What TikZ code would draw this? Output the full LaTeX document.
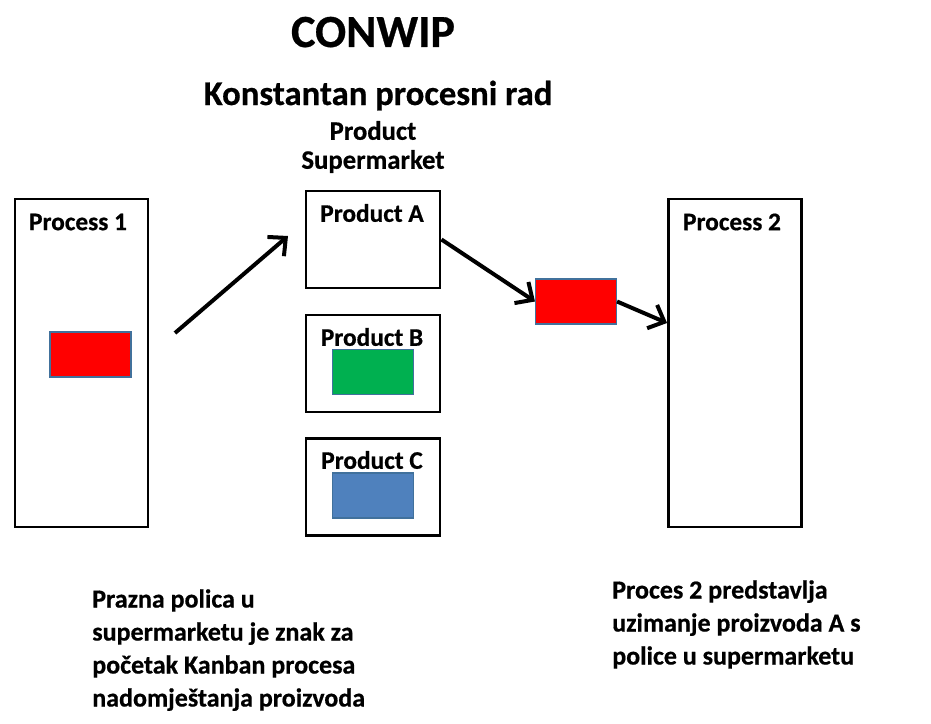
\documentclass[tikz,border=0pt]{standalone}
\usepackage{fontspec}
\setmainfont{Carlito}[BoldFeatures={FakeBold=0.6}]
\usetikzlibrary{arrows.meta}
\definecolor{itemred}{RGB}{255,0,0}
\definecolor{itemgreen}{RGB}{0,176,80}
\definecolor{itemblue}{RGB}{79,129,189}
\definecolor{itemline}{RGB}{65,113,156}
\tikzstyle{proc} = [draw=black, line width=2.2pt, minimum width=99.75pt, minimum height=246pt]
\tikzstyle{shelf} = [draw=black, line width=2.2pt, minimum width=100.5pt, minimum height=72.75pt]
\tikzstyle{item} = [draw=itemline, line width=0.8pt, minimum width=60.75pt, minimum height=33.75pt]
\tikzstyle{lbl} = [font={\bfseries\fontsize{19}{22}\selectfont}, inner sep=0pt]
\tikzstyle{note} = [font={\bfseries\fontsize{19.5}{24.75}\selectfont}, align=left, inner sep=0pt, anchor=north west]
\tikzstyle{flow} = [line width=3pt, -{Straight Barb[length=10pt,width=19pt]}]

\begin{document}
\begin{tikzpicture}[x=0.75pt,y=-0.75pt]
    \useasboundingbox (0,0) rectangle (931,724);
    \node[font={\bfseries\fontsize{34.5}{40}\selectfont}, anchor=base](t) at (373,47){CONWIP};
    \node[font={\bfseries\fontsize{26}{30}\selectfont}, anchor=base](st) at (378,105){Konstantan procesni rad};
    \node[lbl, align=center, font={\bfseries\fontsize{20}{21.75}\selectfont}](sm) at (373,147){Product\\Supermarket};
    \node[proc](p1) at (81.5,363){};
    \node[lbl](p1l) at (78,222){Process 1};
    \node[item,fill=itemred](r1) at (90.5,354.5){};
    \node[shelf](a) at (373,239.5){};
    \node[lbl](al) at (372,213){Product A};
    \node[shelf](b) at (373,363.5){};
    \node[lbl](bl) at (372,337){Product B};
    \node[item,fill=itemgreen](g) at (373,372){};
    \node[shelf](c) at (373,487){};
    \node[lbl](cl) at (372,460){Product C};
    \node[item,fill=itemblue](bx) at (373,495.5){};
    \node[item,fill=itemred](m) at (576,301.5){};
    \node[proc](p2) at (735,363){};
    \node[lbl](p2l) at (732,222){Process 2};
    \coordinate (s1) at (175,333);
    \coordinate (e1) at (288,236);
    \draw[flow](s1)--(e1);
    \draw[flow](a.east)--(m.west);
    \draw[flow](m.east)--([yshift=30pt]p2.west);
    \node[note](n1) at (92,589){Prazna polica u\\supermarketu je znak za\\početak Kanban procesa\\nadomještanja proizvoda};
    \node[note](n2) at (612,580){Proces 2 predstavlja\\uzimanje proizvoda A s\\police u supermarketu};
  \end{tikzpicture}
\end{document}
